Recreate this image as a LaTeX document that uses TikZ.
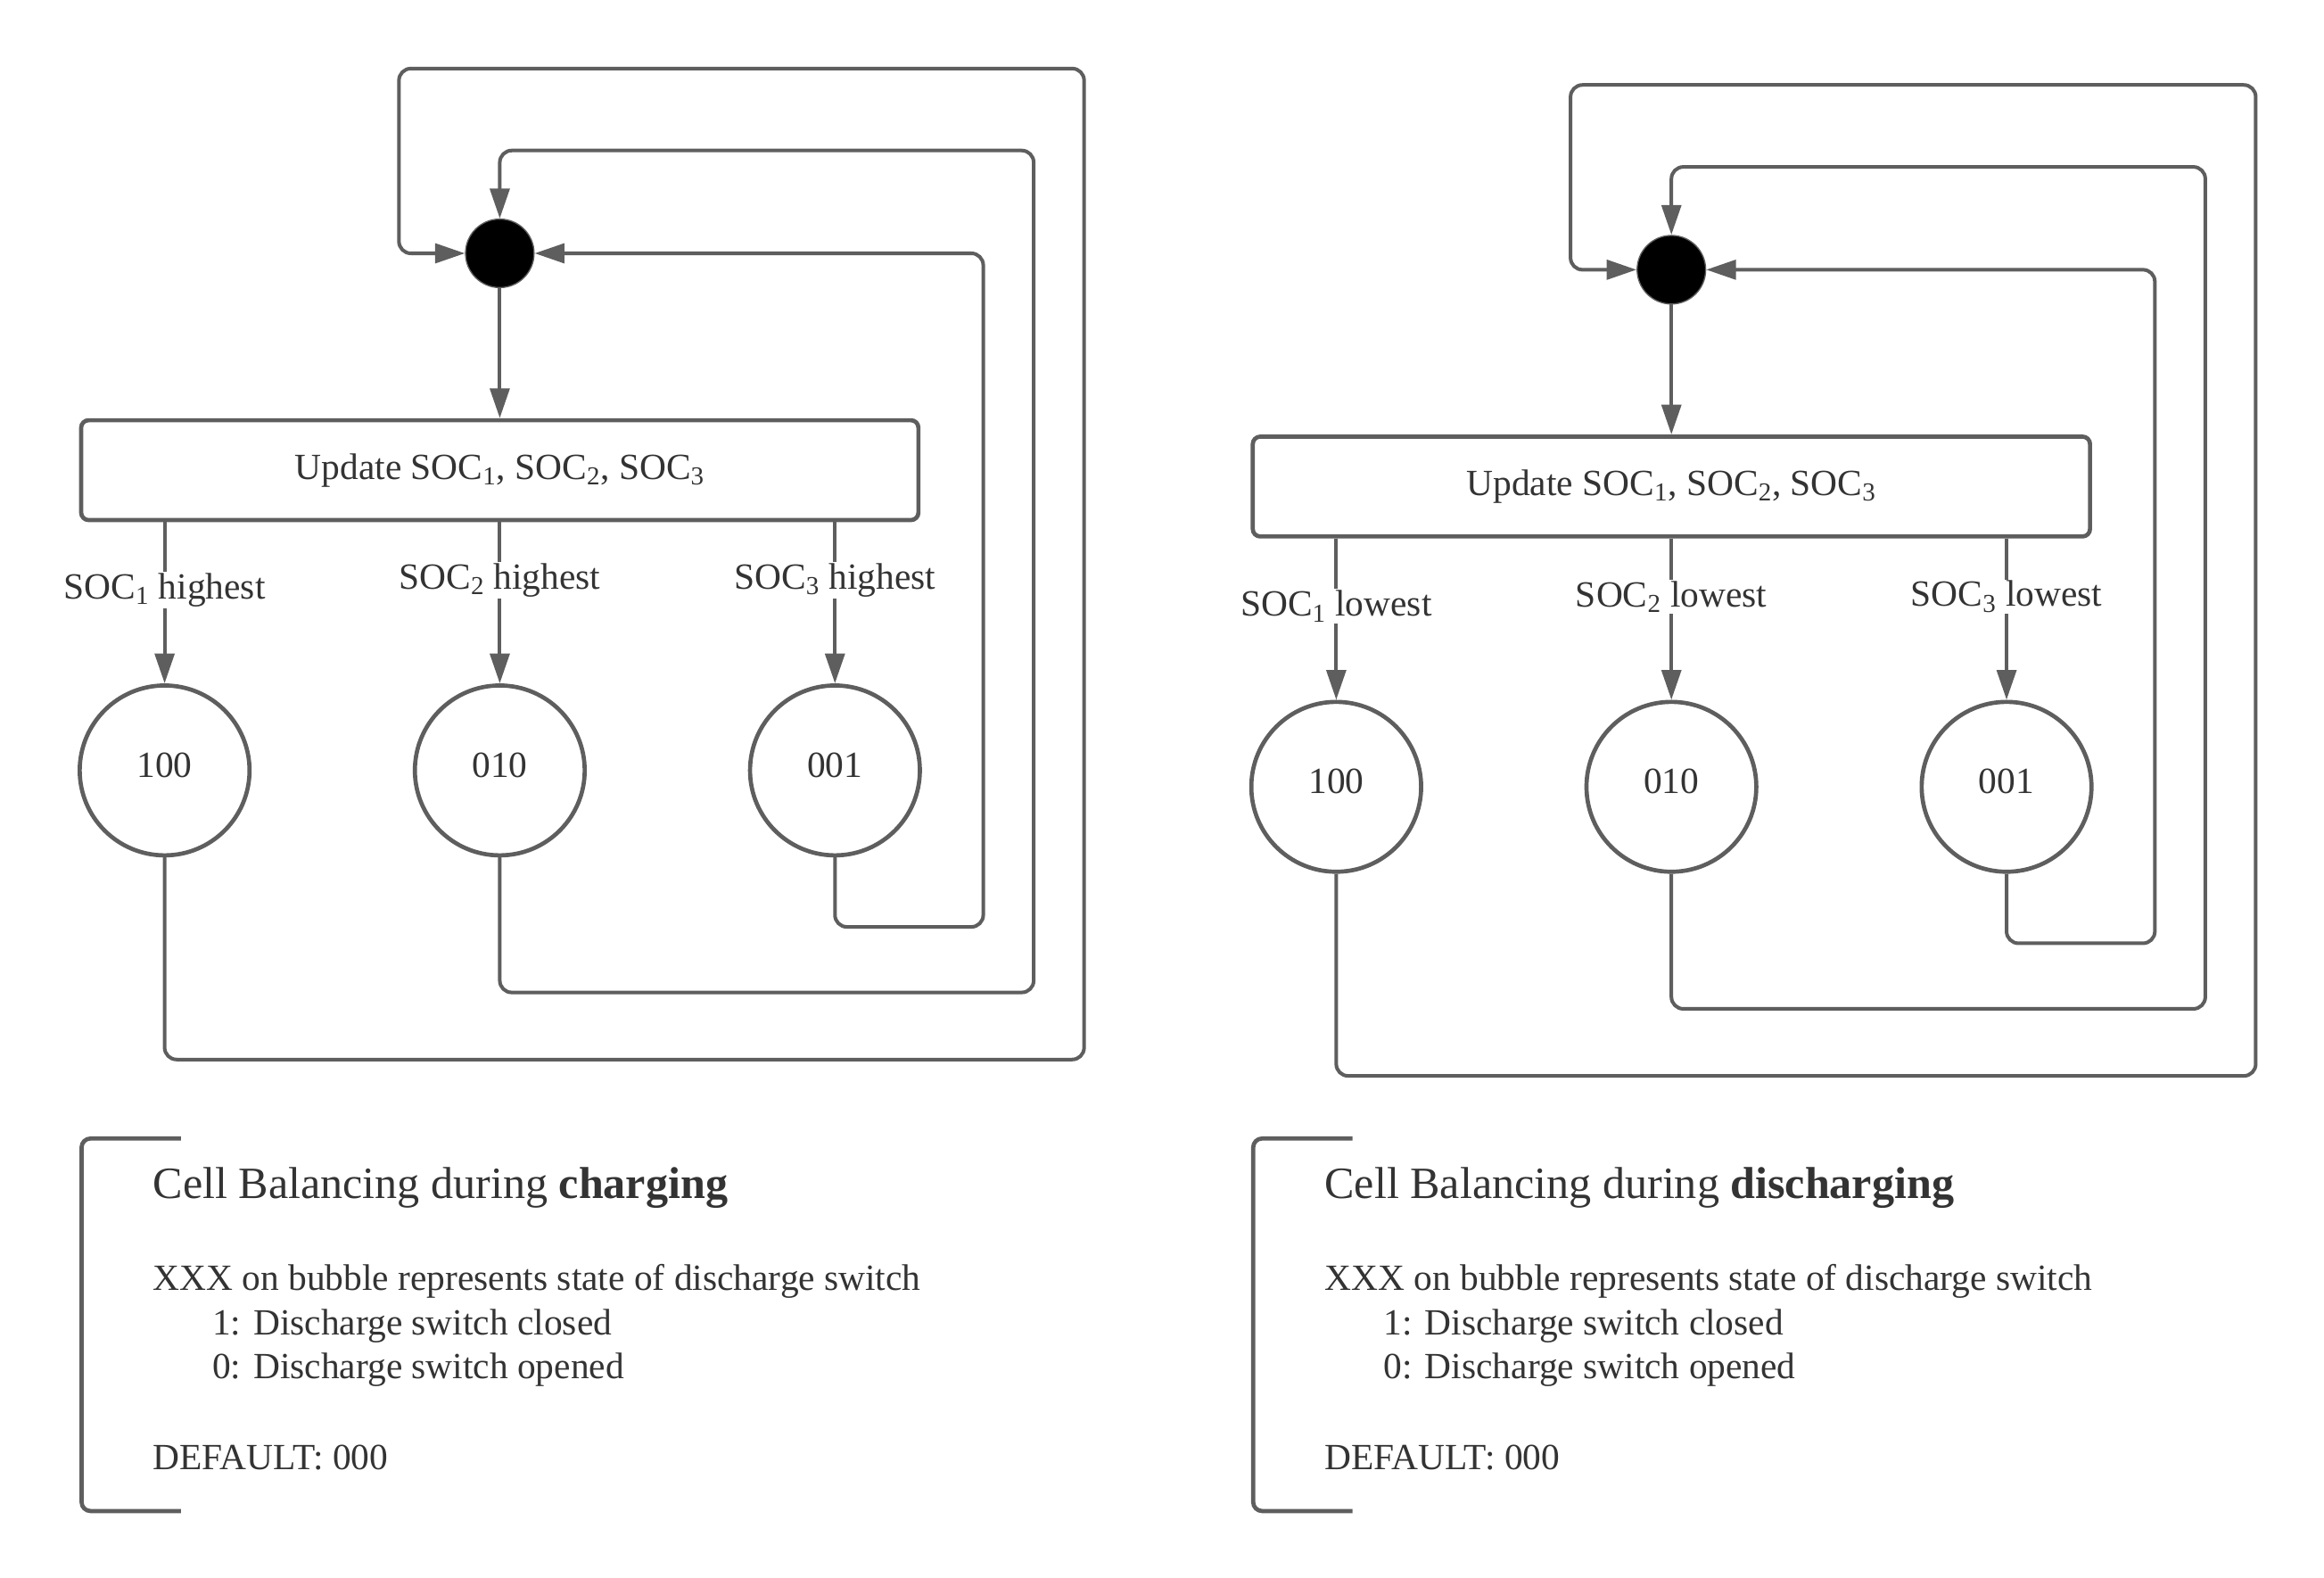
\documentclass[tikz,border=0pt]{standalone}
\usepackage{fontspec}
\setmainfont{Liberation Serif}
\usetikzlibrary{arrows.meta}
\definecolor{linegray}{HTML}{5E5E5E}
\definecolor{textgray}{HTML}{333333}
\tikzset{
	flow/.style={draw=linegray, line width=2.4pt, -{Triangle[length=20pt,width=13pt]}},
	back/.style={flow, rounded corners=8pt},
	statebox/.style={draw=linegray, line width=2.8pt, rounded corners=5pt, minimum width=562pt, minimum height=67pt, text=textgray},
	bubble/.style={circle, draw=linegray, line width=2.8pt, minimum size=114pt, inner sep=0pt, text height=17pt, text depth=8pt, text=textgray},
	junction/.style={circle, fill=black, draw=linegray, line width=0.8pt, minimum size=46pt, inner sep=0pt},
	cond/.style={fill=white, inner sep=1pt, text=textgray},
	note/.style={anchor=base west, inner sep=0pt, text=textgray},
	bracket/.style={draw=linegray, line width=2.8pt, rounded corners=6pt}
}
\begin{document}
\begin{tikzpicture}[x=0.9955pt, y=-1pt, font=\fontsize{24.8}{30}\selectfont]
	\useasboundingbox[fill=white] (0pt,0pt) rectangle (1560pt,-1058.4pt);

	\foreach \dx/\dy/\rank/\phase in {0/0/highest/charging, 790/11/lowest/discharging} {
	\begin{scope}[shift={(\dx,\dy)}]
		\node[junction] (dot\dx) at (337,170) {};
		\node[statebox] (upd\dx) at (337,315.5) {Update SOC\textsubscript{1}, SOC\textsubscript{2}, SOC\textsubscript{3}};
		\node[bubble] (a\dx) at (111,517) {100};
		\node[bubble] (b\dx) at (337,517) {010};
		\node[bubble] (c\dx) at (563,517) {001};

		\draw[flow] (dot\dx) -- (upd\dx);
		\draw[flow] (upd\dx.south -| a\dx.north) -- node[cond, pos=.42] {SOC\textsubscript{1} \rank} (a\dx);
		\draw[flow] (upd\dx.south -| b\dx.north) -- node[cond, pos=.36] {SOC\textsubscript{2} \rank} (b\dx);
		\draw[flow] (upd\dx.south -| c\dx.north) -- node[cond, pos=.36] {SOC\textsubscript{3} \rank} (c\dx);

		% back to the junction
		\draw[back] (c\dx.south) |- (663,622) |- (dot\dx.east);
		\draw[back] (b\dx.south) |- (697,666) |- (337,101) -- (dot\dx.north);
		\draw[back] (a\dx.south) |- (731,711) |- (269,46) |- (dot\dx.west);
	\end{scope}

	\begin{scope}[shift={(\dx,0)}]
		\draw[bracket] (122,764) -| (55,1014) -- (122,1014);
		\node[note, font=\fontsize{30}{36}\selectfont] (title\dx) at (103,804) {Cell Balancing during \textbf{\phase}};
		\node[note] (key\dx) at (103,866) {XXX on bubble represents state of discharge switch};
		\node[note] (one\dx) at (143,896) {1: Discharge switch closed};
		\node[note] (zero\dx) at (143,925) {0: Discharge switch opened};
		\node[note] (def\dx) at (103,986) {DEFAULT: 000};
	\end{scope}
	}
\end{tikzpicture}
\end{document}
